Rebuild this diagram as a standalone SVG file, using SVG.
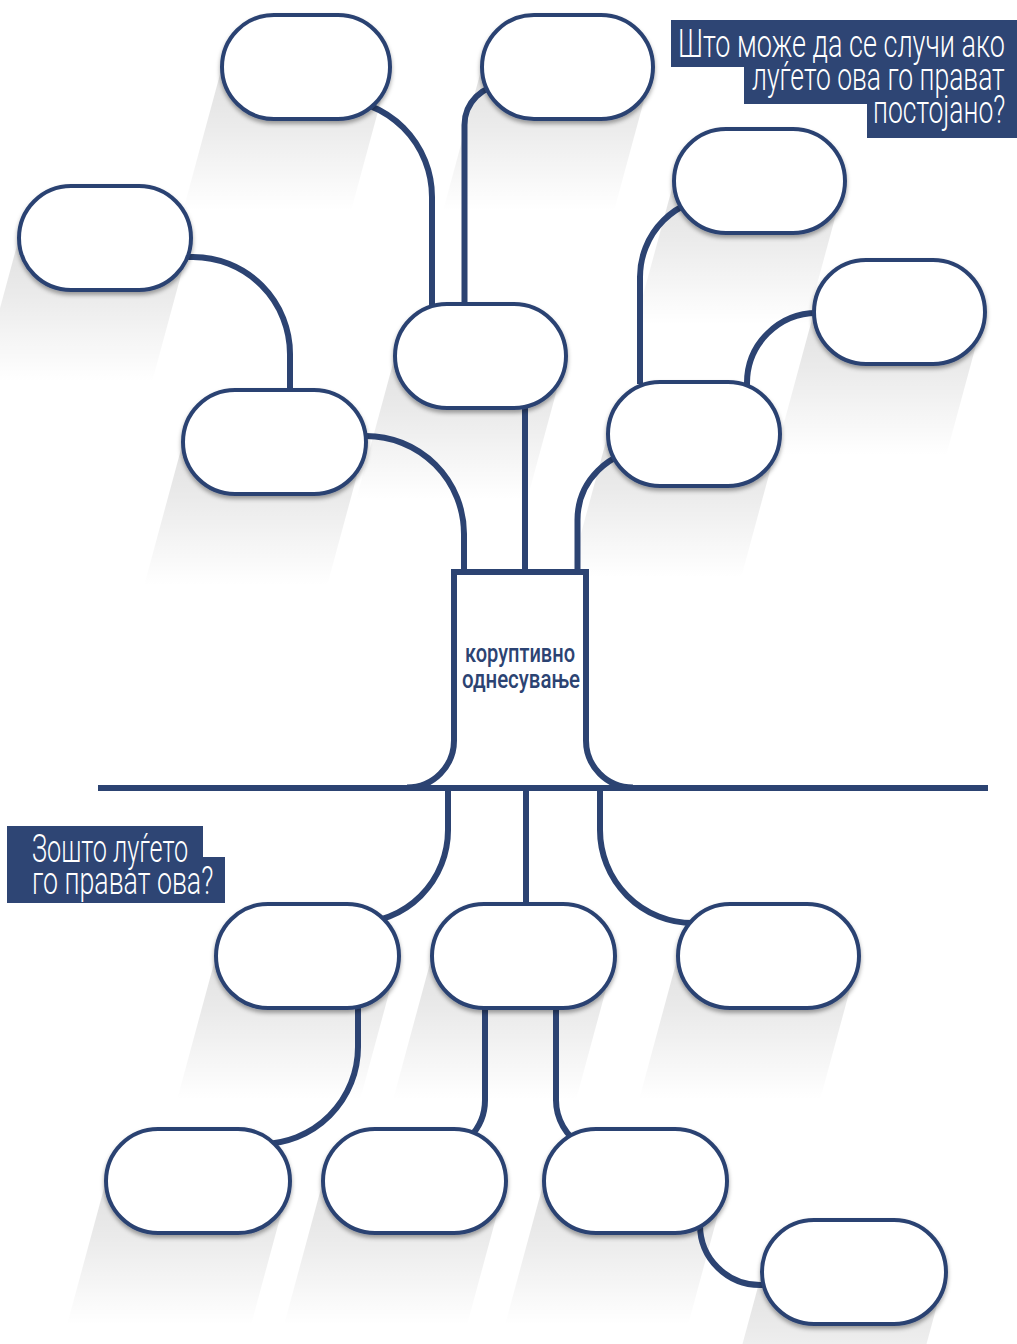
<svg xmlns="http://www.w3.org/2000/svg" width="1017" height="1344" viewBox="0 0 1017 1344">
<style>
.pill{fill:#fff;stroke:#2c4372;stroke-width:4;filter:url(#ds)}
.sh{fill:url(#sg)}
.conn{fill:none;stroke:#2c4372;stroke-width:6}
.lab{fill:#2e4574}
.lt{fill:#fff;font-family:Roboto,"Liberation Sans",sans-serif;font-weight:300;font-size:39px}
.ct{fill:#2c4372;font-family:Roboto,"Liberation Sans",sans-serif;font-weight:500;font-size:25px}
</style>
<defs>
<filter id="ds" x="-10%" y="-10%" width="120%" height="130%">
<feDropShadow dx="0" dy="3" stdDeviation="2" flood-color="#000" flood-opacity="0.35"/>
</filter>
<linearGradient id="sg" x1="0" y1="0" x2="0" y2="1">
<stop offset="0" stop-color="#000" stop-opacity="0.12"/>
<stop offset="0.4" stop-color="#000" stop-opacity="0.08"/>
<stop offset="1" stop-color="#000" stop-opacity="0"/>
</linearGradient>
</defs>
<rect width="1017" height="1344" fill="#fff"/>
<g id="shadows">
<polygon class="sh" points="222,67 390,67 351,211 183,211"/>
<polygon class="sh" points="482,67 653,67 614,211 443,211"/>
<polygon class="sh" points="674,181 845,181 806,325 635,325"/>
<polygon class="sh" points="814,312 985,312 946,456 775,456"/>
<polygon class="sh" points="19,238 191,238 152,382 -20,382"/>
<polygon class="sh" points="183,442 366,442 327,586 144,586"/>
<polygon class="sh" points="395,356 566,356 527,500 356,500"/>
<polygon class="sh" points="608,434 780,434 741,578 569,578"/>
<polygon class="sh" points="216,956 399,956 360,1100 177,1100"/>
<polygon class="sh" points="432,956 615,956 576,1100 393,1100"/>
<polygon class="sh" points="678,956 859,956 820,1100 639,1100"/>
<polygon class="sh" points="106,1181 290,1181 251,1325 67,1325"/>
<polygon class="sh" points="323,1181 506,1181 467,1325 284,1325"/>
<polygon class="sh" points="544,1181 727,1181 688,1325 505,1325"/>
<polygon class="sh" points="762,1272 946,1272 907,1416 723,1416"/>
</g>
<g id="connectors">
<path class="conn" d="M334 99 A98 98 0 0 1 432 197 V306"/>
<path class="conn" d="M464.5 306 V125 A40 40 0 0 1 504.5 85"/>
<path class="conn" d="M185 257 H193 A97 97 0 0 1 290 354 V392"/>
<path class="conn" d="M360 436 H366 A98 98 0 0 1 464 534 V573"/>
<path class="conn" d="M525 407 V573"/>
<path class="conn" d="M577.5 573 V520 A70 70 0 0 1 647.5 450"/>
<path class="conn" d="M640 384 V277 A80 80 0 0 1 720 197"/>
<path class="conn" d="M747 400 V383 A70 70 0 0 1 817 313"/>
<path class="conn" d="M407 787.5 A47 47 0 0 0 454 740 V572 H586 V740 A47 47 0 0 0 633 787.5" stroke-width="7"/>
<path class="conn" d="M98 788 H988" stroke-width="7"/>
<path class="conn" d="M448 788 V830 A93 93 0 0 1 355 923"/>
<path class="conn" d="M526 788 V906"/>
<path class="conn" d="M600 788 V830 A93 93 0 0 0 693 923"/>
<path class="conn" d="M358 1008 V1047 A97 97 0 0 1 261 1144"/>
<path class="conn" d="M485 1008 V1100 A53 53 0 0 1 469.5 1137.5"/>
<path class="conn" d="M556 1008 V1100 A53 53 0 0 0 582.5 1146"/>
<path class="conn" d="M700 1225 A60 60 0 0 0 760 1285 H775"/>
</g>
<g id="n1"><rect class="pill" x="222" y="15" width="168" height="104" rx="52"/></g>
<g id="n2"><rect class="pill" x="482" y="15" width="171" height="104" rx="52"/></g>
<g id="n3"><rect class="pill" x="674" y="129" width="171" height="104" rx="52"/></g>
<g id="n4"><rect class="pill" x="814" y="260" width="171" height="104" rx="52"/></g>
<g id="n5"><rect class="pill" x="19" y="186" width="172" height="104" rx="52"/></g>
<g id="n6"><rect class="pill" x="183" y="390" width="183" height="104" rx="52"/></g>
<g id="n7"><rect class="pill" x="395" y="304" width="171" height="104" rx="52"/></g>
<g id="n8"><rect class="pill" x="608" y="382" width="172" height="104" rx="52"/></g>
<g id="n9"><rect class="pill" x="216" y="904" width="183" height="104" rx="52"/></g>
<g id="n10"><rect class="pill" x="432" y="904" width="183" height="104" rx="52"/></g>
<g id="n11"><rect class="pill" x="678" y="904" width="181" height="104" rx="52"/></g>
<g id="n12"><rect class="pill" x="106" y="1129" width="184" height="104" rx="52"/></g>
<g id="n13"><rect class="pill" x="323" y="1129" width="183" height="104" rx="52"/></g>
<g id="n14"><rect class="pill" x="544" y="1129" width="183" height="104" rx="52"/></g>
<g id="n15"><rect class="pill" x="762" y="1220" width="184" height="104" rx="52"/></g>
<g id="center">
<text class="ct" x="520" y="662" text-anchor="middle" textLength="110" lengthAdjust="spacingAndGlyphs">коруптивно</text>
<text class="ct" x="521" y="688" text-anchor="middle" textLength="118" lengthAdjust="spacingAndGlyphs">однесување</text>
</g>
<g id="label-top">
<rect class="lab" x="671" y="20" width="346" height="47"/>
<rect class="lab" x="744" y="66" width="273" height="38"/>
<rect class="lab" x="867" y="103" width="150" height="35"/>
<text class="lt" transform="translate(678 57) scale(0.7 1)" textLength="467" lengthAdjust="spacingAndGlyphs">Што може да се случи ако</text>
<text class="lt" transform="translate(752 90) scale(0.7 1)" textLength="361" lengthAdjust="spacingAndGlyphs">луѓето ова го прават</text>
<text class="lt" transform="translate(873 123) scale(0.7 1)" textLength="189" lengthAdjust="spacingAndGlyphs">постојано?</text>
</g>
<g id="label-bottom">
<rect class="lab" x="7" y="826" width="196" height="40"/>
<rect class="lab" x="7" y="857" width="218" height="46"/>
<text class="lt" transform="translate(32 862) scale(0.7 1)" textLength="223" lengthAdjust="spacingAndGlyphs">Зошто луѓето</text>
<text class="lt" transform="translate(32 894) scale(0.7 1)" textLength="259" lengthAdjust="spacingAndGlyphs">го прават ова?</text>
</g>
</svg>
